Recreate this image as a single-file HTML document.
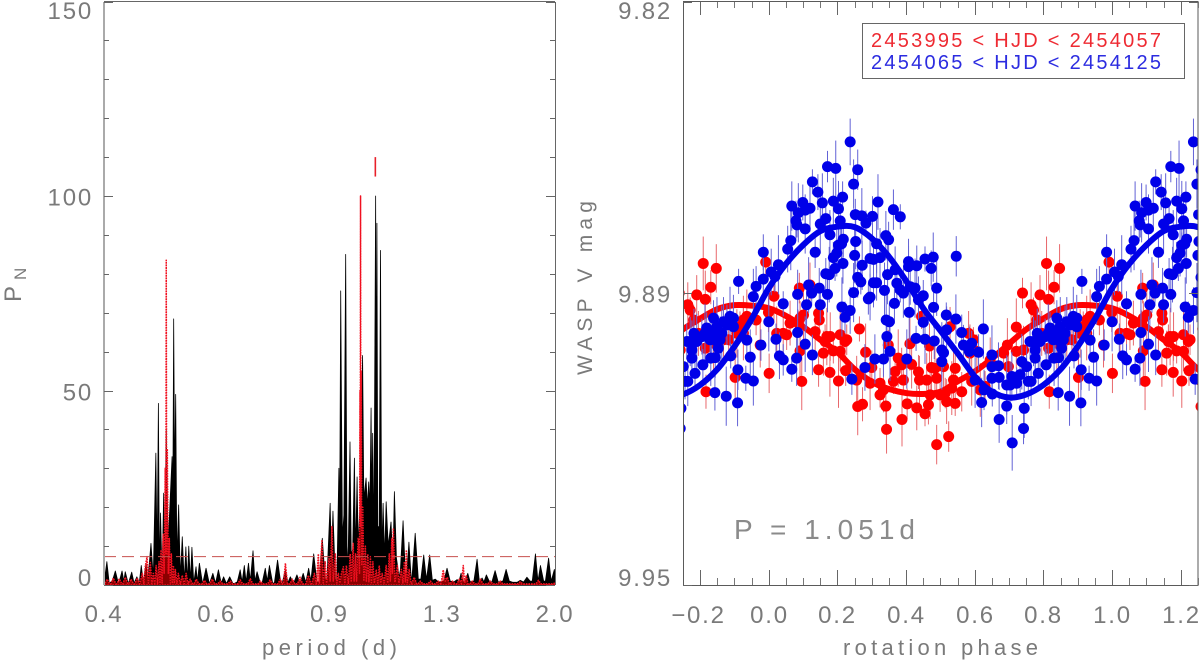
<!DOCTYPE html>
<html lang="en">
<head>
<meta charset="utf-8">
<title>Periodogram and rotation phase light curve</title>
<style>
html,body{margin:0;padding:0;background:#fff;}
svg{display:block;}
text{font-family:"Liberation Sans",sans-serif;fill:#7a7a7a;}
</style>
</head>
<body>
<svg id="figure" xmlns="http://www.w3.org/2000/svg" width="1200" height="663" viewBox="0 0 1200 663">
  <defs>
    <clipPath id="clip-left"><rect x="104" y="2" width="451" height="583"/></clipPath>
    <clipPath id="clip-right"><rect x="683" y="2" width="515" height="583"/></clipPath>
  </defs>
  <rect x="0" y="0" width="1200" height="663" fill="#fff"/>
  <g id="left-plot"></g>
  <g id="right-plot"></g>

  <text transform="translate(21,302) rotate(-90)" font-size="24">P</text>
  <text transform="translate(26,280) rotate(-90)" font-size="17">N</text>
  <text x="262" y="655" font-size="22" textLength="135" lengthAdjust="spacing">period (d)</text>

  <text transform="translate(592,375) rotate(-90)" font-size="21" textLength="174" lengthAdjust="spacing">WASP V mag</text>
  <text x="843" y="655" font-size="22" textLength="195" lengthAdjust="spacing">rotation phase</text>
  <text x="734" y="539" font-size="28" textLength="181" lengthAdjust="spacing" style="fill:#8a8a8a">P = 1.051d</text>

  <g>
    <rect x="862.5" y="23.5" width="322" height="55" fill="#fff" stroke="#666" stroke-width="1"/>
    <text x="871" y="47" font-size="20" textLength="290" lengthAdjust="spacing" style="fill:#ee2a32">2453995 &lt; HJD &lt; 2454057</text>
    <text x="871" y="69" font-size="20" textLength="290" lengthAdjust="spacing" style="fill:#2c2ce0">2454065 &lt; HJD &lt; 2454125</text>
  </g>
</svg>

<script>
/* ---------- periodogram data ---------- */
const blackPeriod = [
.4000,.4041,.4075,.4120,.4165,.4210,.4266,.4293,.4315,.4360,.4416,.4453,.4498,.4536,.4569,.4603,.4647,.4677,
.4730,.4769,.4813,.4835,.4857,.4875,.4894,.4922,.4949,.4971,.4995,.5023,.5032,.5059,.5100,.5114,.5129,.5148,
.5166,.5188,.5221,.5252,.5289,.5326,.5357,.5384,.5413,.5444,.5474,.5510,.5555,.5581,.5622,.5683,.5757,.5824,
.5899,.5956,.6017,.6078,.6129,.6190,.6264,.6369,.6436,.6503,.6548,.6600,.6642,.6699,.6742,.6808,.6853,.6907,
.7014,.7113,.7162,.7219,.7313,.7431,.7532,.7642,.7710,.7778,.7861,.7962,.8052,.8143,.8218,.8303,.8369,.8454,
.8566,.8717,.8807,.8965,.9005,.9055,.9132,.9182,.9249,.9275,.9309,.9366,.9416,.9476,.9523,.9566,.9623,.9666,
.9716,.9776,.9816,.9870,.9907,.9981,1.0065,1.0110,1.0191,1.0239,1.0287,1.0331,1.0375,1.0405,1.0434,1.0479,
1.0545,1.0571,1.0593,1.0626,1.0682,1.0730,1.0774,1.0830,1.0887,1.0949,1.1030,1.1140,1.1214,1.1275,1.1357,
1.1467,1.1520,1.1630,1.1724,1.1785,1.1875,1.1969,1.2144,1.2280,1.2392,1.2519,1.2640,1.2789,1.2911,1.3046,
1.3271,1.3420,1.3605,1.3769,1.3918,1.4103,1.4192,1.4302,1.4416,1.4651,1.4776,1.4941,1.5145,1.5271,1.5420,
1.5519,1.5656,1.5876,1.6151,1.6329,1.6572,1.6798,1.6999,1.7364,1.7669,1.7850,1.8093,1.8383,1.8652,1.8821,
1.8989,1.9259,1.9549,1.9731,1.9953,2.0000];
const blackPower = [
.5,6,.5,1,3.6,.5,3.6,1,3.4,.5,3.3,.5,2.1,.5,5,.6,5.5,1,
10.7,2,33.9,6,46.7,3,18.5,2,23.6,8,40,14,12,20,33,22,68.4,25,
49,6,20.6,2,12.4,1,9.8,1,10,1,9.7,.5,4.7,.8,5.6,.6,4.3,.5,
3,.5,3.9,.5,2.1,.4,2.1,.4,.8,3.9,.8,5,.8,5.6,1,8.8,1,3.4,
.5,4.3,1,5,.5,6.4,.5,3.9,.6,2.1,.5,2.6,.5,3,.7,4.3,1,8,
.8,12,1.5,21,6,19,1.5,1,30,15,75.6,12,18,85,4,10,36.8,8,
9,32.6,8,27.8,10,22,59,22,27.5,20,26.5,20,45.5,20,39,10,
100,35,93,15,15,86,8,21,7,21.4,10,16.2,5,24,7,
2,4,16.5,3,3,11,2,13.3,1.5,1.5,7.7,1.5,7.7,1.2,1.5,
.8,1,4.3,1,.8,1.4,.8,3,.8,3,.8,1,6.6,.8,1.8,
.8,2.6,.8,3.7,.8,1,4,1,.7,1.2,.8,2,1,8,1,
5,1,6.9,1,4,3];

const redPeriod = [
.4000,.4045,.4090,.4135,.4180,.4225,.4270,.4315,.4360,.4405,.4453,.4503,.4545,.4586,.4611,.4636,.4664,.4686,
.4719,.4744,.4769,.4794,.4818,.4843,.4868,.4885,.4903,.4922,.4940,.4958,.4977,.4988,.4995,.5003,.5014,.5032,
.5050,.5069,.5087,.5105,.5124,.5142,.5160,.5188,.5215,.5252,.5289,.5326,.5362,.5399,.5440,.5500,.5561,.5642,
.5723,.5804,.5885,.5966,.6056,.6168,.6279,.6391,.6503,.6618,.6742,.6865,.6989,.7113,.7236,.7368,.7505,.7587,
.7642,.7697,.7834,.7943,.8052,.8173,.8294,.8384,.8475,.8535,.8596,.8626,.8707,.8747,.8807,.8853,.8931,.8965,
.9022,.9065,.9132,.9182,.9232,.9282,.9332,.9399,.9449,.9499,.9566,.9633,.9666,.9733,.9766,.9816,.9851,.9907,
.9925,.9955,.9973,.9981,.9992,1.0003,1.0014,1.0036,1.0073,1.0110,1.0165,1.0202,1.0257,1.0294,1.0350,1.0387,
1.0442,1.0497,1.0571,1.0626,1.0682,1.0737,1.0793,1.0867,1.0949,1.1010,1.1071,1.1112,1.1173,1.1193,1.1234,
1.1295,1.1397,1.1459,1.1561,1.1622,1.1683,1.1724,1.1765,1.1806,1.1887,1.1969,1.2099,1.2235,1.2370,1.2595,
1.2821,1.3001,1.3181,1.3321,1.3420,1.3520,1.3620,1.3719,1.3869,1.4068,1.4217,1.4317,1.4416,1.4491,1.4566,
1.4666,1.4886,1.5106,1.5326,1.5546,1.5876,1.6151,1.6451,1.7060,1.7669,1.8315,1.8854,1.9326,2.0000];
const redPower = [
.3,1.5,.3,1.8,.3,1.6,.3,2,.3,1.5,.3,1.8,.3,3,.3,5,7.3,.5,
5.8,.4,3,.4,5,.4,6,.4,9,.5,13,3,30,8,83.5,8,35,3,
12,.5,8,.4,5,.4,4,.4,3,.3,2.5,.3,3,.3,1.5,.3,1.5,.3,
1.2,.3,1.5,.3,1,.3,1,.3,1.3,.3,1.6,.3,1,.3,1.3,.3,1.5,.3,
5.6,.3,1.5,.3,2,.3,2.5,.4,3,.4,8,.5,11.6,.5,6,.5,7,1,
15,1,8,.5,3,.5,3,4.7,.4,5,.4,8,.8,10.7,1,8,1,12,
12,3,50,15,100,15,55,5,20,1,10,.8,8,.8,7.3,.6,
6,.5,4,.5,5,.5,3,.5,5,.5,8,1,12,3,14.6,
.7,5,.5,4,.5,6,.8,9,.6,4,.4,2,.3,1,.3,
1,.3,1,.4,3.9,1,2,.3,1,.3,1.5,.4,5,.5,2.5,
.3,1,.3,1.5,.3,1,.3,1,.3,.8,.3,1.2,.3,.5];

const powerTicks = [0, 50, 100, 150];
const powerMinorTicks = [10,20,30,40,60,70,80,90,110,120,130,140];
const periodTicks = [0.4, 0.598, 0.894, 1.337, 2.0];
const periodTickLabels = ["0.4","0.6","0.9","1.3","2.0"];
const fapLevel = [7.3];
const markerPeriod = [1.0534];
const markerPower = [105, 110];

/* ---------- light-curve data ---------- */
const bluePhase = [
.237,.171,.195,.259,.127,.247,.143,.156,.188,.215,.318,.363,.383,.067,.099,.086,.120,.106,.203,.079,
.082,.106,.166,.150,.208,.252,.271,.302,.283,.178,.217,.064,.055,.135,.253,.212,.203,.341,.349,.314,
.198,.188,.250,.216,.193,.272,.295,.324,.305,.166,.176,.259,.268,.305,.314,.346,.368,.407,.407,.431,
.455,.479,.473,.028,.007,.018,.116,.147,.125,.084,.171,.247,.295,.290,.337,.373,.383,.392,.412,.426,
.436,.450,.489,.366,.042,.110,.150,.213,.237,.222,.409,.480,.450,.342,.351,.000,.084,.021,.106,.344,
.429,.455,.482,.353,.031,.042,.081,.127,.067,.309,.334,.402,.280,.242,.504,
.546,.517,.545,.562,.625,.518,.509,.504,.567,.591,.584,.611,.650,.669,.650,.601,.627,.651,.620,.693,
.744,.671,.742,.709,.650,.671,.708,.732,.693,.703,.722,.737,.751,.785,.764,.761,.776,.776,.808,.831,
.844,.889,.782,.805,.814,.829,.853,.863,.878,.897,.868,.839,.887,.897,.936,.946,.910,.933,.955,.843,
.876,.909,.977,.955,.963,.912,.984,.984,.849,.858,.819,.790,.834,.849,.771,.756];
const blueMag = [
9.8512,9.8567,9.8571,9.8574,9.8601,9.8606,9.8624,9.8648,9.8644,9.8635,9.8646,9.8663,9.8679,9.8655,9.8647,9.8670,9.8660,9.8664,9.8661,9.8688,
9.8697,9.8706,9.8683,9.8695,9.8688,9.8674,9.8677,9.8678,9.8693,9.8719,9.8729,9.8732,9.8751,9.8758,9.8734,9.8739,9.8742,9.8721,9.8730,9.8739,
9.8760,9.8770,9.8765,9.8783,9.8794,9.8787,9.8772,9.8770,9.8774,9.8806,9.8808,9.8814,9.8824,9.8826,9.8826,9.8808,9.8797,9.8779,9.8790,9.8788,
9.8773,9.8769,9.8794,9.8786,9.8802,9.8812,9.8831,9.8838,9.8849,9.8852,9.8852,9.8848,9.8858,9.8862,9.8843,9.8827,9.8842,9.8849,9.8835,9.8838,
9.8864,9.8855,9.8838,9.8872,9.8873,9.8875,9.8875,9.8880,9.8888,9.8903,9.8892,9.8881,9.8914,9.8909,9.8913,9.8913,9.8937,9.8952,9.8963,9.8946,
9.8950,9.8952,9.8956,9.8979,9.8989,9.8998,9.8994,9.8987,9.9019,9.8996,9.8996,9.8996,9.9015,9.9041,9.8976,
9.8767,9.8898,9.8907,9.8937,9.8929,9.8931,9.8982,9.9002,9.8965,9.8961,9.8979,9.8981,9.8987,9.9011,9.9013,9.9043,9.9065,9.9074,9.9093,9.9101,
9.9106,9.9131,9.9151,9.9183,9.9039,9.9037,9.9035,9.9031,9.9054,9.9054,9.9050,9.9002,9.9013,9.9028,9.9046,9.8957,9.8976,9.8994,9.9009,9.8994,
9.8993,9.8989,9.8939,9.8946,9.8939,9.8953,9.8972,9.8939,9.8920,9.8924,9.8913,9.8905,9.8901,9.8905,9.8954,9.8992,9.9020,9.9039,9.9045,9.9071,
9.9079,9.9094,9.8965,9.8857,9.8834,9.8823,9.8818,9.8758,9.8924,9.8953,9.8927,9.8957,9.8939,9.8957,9.8957,9.9046];
const blueErr = [0.0052,0.0035,0.0062,0.0045,0.0028,0.0055,0.0040,0.0066];

const redPhase = [
.015,.089,.120,.145,.147,.101,.091,.042,.023,.052,.062,.086,.135,.169,.164,.179,.208,.227,.222,.264,
.001,.096,.145,.178,.203,.224,.159,.188,.208,.282,.300,.256,.295,.324,.334,.324,.341,.259,.273,.343,
.388,.403,.431,.455,.465,.377,.387,.416,.411,.348,.468,.445,.489,.474,.436,.439,.460,.392,.368,.363,
.489,.484,.499,.470,.091,
.524,.518,.543,.562,.538,.543,.509,.533,.514,.582,.596,.528,.586,.606,.591,.616,.630,.645,.684,.698,
.721,.721,.742,.695,.739,.764,.771,.790,.815,.831,.847,.809,.781,.795,.815,.883,.902,.817,.926,.936,
.963,.975,.991,.999,.839,.868,.907,.926,.916];
const redMag = [
9.8856,9.8838,9.8831,9.8894,9.8909,9.8898,9.8905,9.8939,9.8939,9.8942,9.8916,9.8916,9.8935,9.8946,9.8957,9.8946,9.8942,9.8953,9.8957,9.8929,
9.9028,9.9046,9.9020,9.9026,9.9045,9.9022,9.8983,9.8978,9.8979,9.8981,9.9015,9.9043,9.9050,9.9050,9.9065,9.9076,9.9101,9.9102,9.9097,9.9153,
9.9131,9.9096,9.9105,9.9118,9.9098,9.8994,9.9009,9.9008,9.8962,9.8965,9.8967,9.8901,9.9187,9.9015,9.9025,9.9043,9.9043,9.9043,9.9024,9.9046,
9.9039,9.9017,9.9076,9.9076,9.8978,
9.9169,9.9091,9.9095,9.9069,9.9043,9.9017,9.9013,9.9061,9.9072,9.8939,9.8953,9.8924,9.8983,9.8979,9.9046,9.9065,9.9057,9.8998,9.8983,9.9013,
9.8925,9.8979,9.8976,9.8965,9.8849,9.8875,9.8887,9.8853,9.8863,9.8836,9.8794,9.8783,9.8909,9.8939,9.8972,9.8953,9.9037,9.9069,9.8909,9.8901,
9.8909,9.8965,9.8780,9.8892,9.8961,9.8953,9.8939,9.8939,9.8924];
const redErr = [0.0060,0.0034,0.0050,0.0028,0.0044,0.0064,0.0038,0.0054];

const fitPhase = [0,.05,.10,.15,.20,.25,.30,.35,.40,.45,.50,.55,.60,.65,.70,.75,.80,.85,.90,.95];
const blueFitMag = [9.8838,9.8784,9.8742,9.8711,9.8701,9.8702,9.8727,9.8768,9.8822,9.8883,9.8933,9.8983,9.9035,9.9069,9.9082,9.9075,9.9054,9.9019,9.8968,9.8907];
const redFitMag = [9.8883,9.8900,9.8924,9.8953,9.8981,9.9019,9.9047,9.9063,9.9072,9.9074,9.9069,9.9046,9.9024,9.8995,9.8962,9.8930,9.8906,9.8885,9.8876,9.8877];

const phaseTicks = [-0.2,0,0.2,0.4,0.6,0.8,1.0,1.2];
const phaseTickLabels = ["\u22120.2","0.0","0.2","0.4","0.6","0.8","1.0","1.2"];
const phaseMinorTicks = [-0.15,-0.1,-0.05,0.05,0.1,0.15,0.25,0.3,0.35,0.45,0.5,0.55,0.65,0.7,0.75,0.85,0.9,0.95,1.05,1.1,1.15,1.25];
const magTicks = [9.82, 9.885, 9.95];
const magTickLabels = ["9.82","9.89","9.95"];

/* ---------- axes ---------- */
const LEFT = {x0:104, x1:555, y0:585, y1:2};
const RIGHT = {x0:683, x1:1198, y0:585, y1:2};
function xPeriod(p){ return LEFT.x0 + (LEFT.x1-LEFT.x0)*Math.log(p/0.4)/Math.log(5); }
function yPower(v){ return LEFT.y0 - 3.89*v; }
function xPhase(ph){ return 768.8 + 343.3*ph; }
function yMag(m){ return RIGHT.y1 + (m-9.82)/0.13*(RIGHT.y0-RIGHT.y1); }

const NS = "http://www.w3.org/2000/svg";
function mk(parent, tag, attrs){
  const el = document.createElementNS(NS, tag);
  for (const k in attrs) el.setAttribute(k, attrs[k]);
  parent.appendChild(el);
  return el;
}
function seg(parent, x1, y1, x2, y2, stroke, w){
  return mk(parent, "line", {x1:x1, y1:y1, x2:x2, y2:y2, stroke:stroke, "stroke-width":w});
}
/* spectrum outline: peaks stay narrow, so long slopes are flattened near the lower point */
function spikePath(periods, powers, maxSlopeWidth){
  let d = "M" + xPeriod(periods[0]).toFixed(2) + " " + yPower(0);
  let px = xPeriod(periods[0]), pv = powers[0];
  d += "L" + px.toFixed(2) + " " + yPower(pv).toFixed(2);
  for (let i = 1; i < periods.length; i++) {
    const x = xPeriod(periods[i]), v = powers[i];
    if (x - px > maxSlopeWidth) {
      if (v > pv) d += "L" + (x-maxSlopeWidth).toFixed(2) + " " + yPower(pv).toFixed(2);
      else d += "L" + (px+maxSlopeWidth).toFixed(2) + " " + yPower(v).toFixed(2);
    }
    d += "L" + x.toFixed(2) + " " + yPower(v).toFixed(2);
    px = x; pv = v;
  }
  d += "L" + px.toFixed(2) + " " + yPower(0) + "Z";
  return d;
}

/* ---------- left panel ---------- */
const L = document.getElementById("left-plot");
const clipL = mk(L, "g", {"clip-path":"url(#clip-left)"});



const blackTrace = mk(clipL, "path", {d:spikePath(blackPeriod, blackPower, 3.2), fill:"#000", stroke:"#000", "stroke-width":"0.8", "stroke-linejoin":"round"});



const redTrace = mk(clipL, "path", {d:spikePath(redPeriod, redPower, 2.5), fill:"rgba(255,0,0,0.55)", stroke:"#f01020", "stroke-width":"1.5", "stroke-dasharray":"1.6 1", "stroke-linejoin":"round"});



const fap = seg(L, LEFT.x0, yPower(fapLevel[0]), LEFT.x1, yPower(fapLevel[0]), "#c8504f", 1);
fap.setAttribute("stroke-dasharray", "12 6");



const marker = seg(L, xPeriod(markerPeriod[0]), yPower(markerPower[0]), xPeriod(markerPeriod[0]), yPower(markerPower[1]), "#e8202a", 1.6);



const leftFrame = mk(L, "g", {});


seg(leftFrame, LEFT.x0, LEFT.y1, LEFT.x0, LEFT.y0, "#aaaaaa", 2);
seg(leftFrame, LEFT.x0, LEFT.y1+0.5-1, LEFT.x1, LEFT.y1+0.5-1, "#666", 1);
seg(leftFrame, LEFT.x0, LEFT.y0+0.5, LEFT.x1, LEFT.y0+0.5, "#444", 1);
seg(leftFrame, LEFT.x1+0.5, LEFT.y1, LEFT.x1+0.5, LEFT.y0, "#666", 1);

powerMinorTicks.forEach(function(v){
  const y = Math.round(yPower(v)) + 0.5;
  const a = seg(L, LEFT.x0, y, LEFT.x0+5, y, "#666", 1);
  
  
  const b = seg(L, LEFT.x1-5, y, LEFT.x1, y, "#666", 1);
  
  
});
powerTicks.forEach(function(v){
  const y = Math.round(yPower(v)) + 0.5;
  const a = seg(L, LEFT.x0, y, LEFT.x0+9, y, "#666", 1);
  
  
  const b = seg(L, LEFT.x1-9, y, LEFT.x1, y, "#666", 1);
  
  
  const t = mk(L, "text", {x:93, y:Math.min(586, Math.max(19, y+9)), "font-size":24, "letter-spacing":"1.8", "text-anchor":"end"});
  t.textContent = String(v);
  
  
});
periodTicks.forEach(function(p, i){
  const t = mk(L, "text", {x:xPeriod(p), y:622, "font-size":24, "letter-spacing":"1.8", "text-anchor":"middle"});
  t.textContent = periodTickLabels[i];
  
  
});

/* ---------- right panel ---------- */
const R = document.getElementById("right-plot");
const clipR = mk(R, "g", {"clip-path":"url(#clip-right)"});



function drawPoints(phases, mags, errs, barColor, dotColor, kind){
  const bars = mk(clipR, "g", {stroke:barColor, "stroke-width":"1"});
  
  
  const dots = mk(clipR, "g", {fill:dotColor});
  
  
  for (let k = -1; k <= 1; k++) {
    for (let i = 0; i < phases.length; i++) {
      const ph = phases[i] + k;
      if (ph < -0.27 || ph > 1.27) continue;
      const x = xPhase(ph), e = errs[i % errs.length];
      const bar = seg(bars, x, yMag(mags[i]-e), x, yMag(mags[i]+e), barColor, 1);
      
      
      const dot = mk(dots, "circle", {cx:x.toFixed(2), cy:yMag(mags[i]).toFixed(2), r:5.5});
      
      
    }
  }
}
function drawFit(mags, color, kind){
  const pts = [];
  for (let k = -1; k <= 1; k++) {
    for (let i = 0; i < fitPhase.length; i++) {
      pts.push([xPhase(fitPhase[i]+k), yMag(mags[i])]);
    }
  }
  let d = "M" + pts[0][0].toFixed(2) + " " + pts[0][1].toFixed(2);
  for (let i = 0; i < pts.length-1; i++) {
    const p0 = pts[Math.max(i-1,0)], p1 = pts[i], p2 = pts[i+1], p3 = pts[Math.min(i+2,pts.length-1)];
    d += "C" + (p1[0]+(p2[0]-p0[0])/6).toFixed(2) + " " + (p1[1]+(p2[1]-p0[1])/6).toFixed(2) + " " +
         (p2[0]-(p3[0]-p1[0])/6).toFixed(2) + " " + (p2[1]-(p3[1]-p1[1])/6).toFixed(2) + " " +
         p2[0].toFixed(2) + " " + p2[1].toFixed(2);
  }
  const fit = mk(clipR, "path", {d:d, fill:"none", stroke:color, "stroke-width":"6"});
  
  
}
drawPoints(redPhase, redMag, redErr, "#e8686c", "#ff0000", "red");
drawFit(redFitMag, "#ff0000", "red");
drawPoints(bluePhase, blueMag, blueErr, "#6262d6", "#0000e8", "blue");
drawFit(blueFitMag, "#0000e8", "blue");

const rightFrame = mk(R, "rect", {x:RIGHT.x0+0.5, y:RIGHT.y1-0.5, width:RIGHT.x1-RIGHT.x0-0.5, height:RIGHT.y0-RIGHT.y1+1, fill:"none", stroke:"#5a5a5a", "stroke-width":1});



phaseMinorTicks.forEach(function(ph){
  const x = Math.round(xPhase(ph)) + 0.5;
  const a = seg(R, x, RIGHT.y0-7, x, RIGHT.y0, "#777", 1);
  
  
  const b = seg(R, x, RIGHT.y1, x, RIGHT.y1+6, "#777", 1);
  
  
});
phaseTicks.forEach(function(ph, i){
  const x = Math.round(xPhase(ph)) + 0.5;
  const a = seg(R, x, RIGHT.y0-15, x, RIGHT.y0, "#666", 1);
  
  
  const b = seg(R, x, RIGHT.y1, x, RIGHT.y1+13, "#666", 1);
  
  
  const t = mk(R, "text", {x:x - (i === 0 ? 2 : 0), y:623, "font-size":24, "letter-spacing":"1.8", "text-anchor":"middle"});
  t.textContent = phaseTickLabels[i];
  
  
});
magTicks.forEach(function(m, i){
  const y = Math.round(yMag(m)) + 0.5;
  const a = seg(R, RIGHT.x0, y, RIGHT.x0+9, y, "#666", 1);
  
  
  const b = seg(R, RIGHT.x1-9, y, RIGHT.x1, y, "#666", 1);
  
  
  const t = mk(R, "text", {x:672, y:Math.min(586, Math.max(19, y+9)), "font-size":24, "letter-spacing":"1.8", "text-anchor":"end"});
  t.textContent = magTickLabels[i];
  
  
});
</script>
</body>
</html>
